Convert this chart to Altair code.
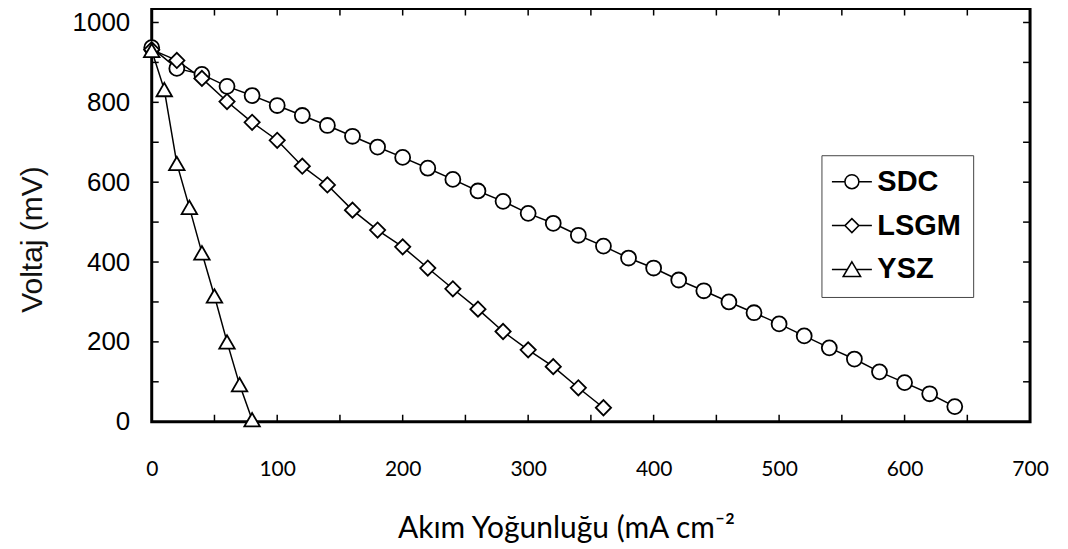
import altair as alt
import pandas as pd

series_names = ["SDC", "LSGM", "YSZ"]

sdc_current = [0, 20, 40, 60, 80, 100, 120, 140, 160, 180, 200, 220, 240, 260, 280, 300,
               320, 340, 360, 380, 400, 420, 440, 460, 480, 500, 520, 540, 560, 580, 600, 620, 640]
sdc_voltage = [937, 885, 870, 840, 817, 792, 767, 742, 715, 688, 662, 635, 607, 578, 552, 522,
               497, 467, 440, 410, 385, 355, 328, 300, 273, 245, 215, 185, 157, 125, 98, 70, 38]

lsgm_current = [0, 20, 40, 60, 80, 100, 120, 140, 160, 180, 200, 220, 240, 260, 280, 300, 320, 340, 360]
lsgm_voltage = [932, 905, 860, 802, 750, 705, 640, 593, 530, 480, 438, 385, 333, 282, 226, 180, 138, 85, 35]

ysz_current = [0, 10, 20, 30, 40, 50, 60, 70, 80]
ysz_voltage = [930, 832, 647, 537, 423, 315, 200, 93, 5]

x_label_values = [0, 100, 200, 300, 400, 500, 600, 700]
y_label_values = [0, 200, 400, 600, 800, 1000]
x_tick_values = [50, 100, 150, 200, 250, 300, 350, 400, 450, 500, 550, 600, 650]
y_tick_values = [100, 200, 300, 400, 500, 600, 700, 800, 900, 1000]

x_title = "Akım Yoğunluğu (mA cm⁻²"
y_title = "Voltaj (mV)"

rows = []
for name, xs, ys in [("SDC", sdc_current, sdc_voltage),
                     ("LSGM", lsgm_current, lsgm_voltage),
                     ("YSZ", ysz_current, ysz_voltage)]:
    for a, b in zip(xs, ys):
        rows.append({"series": name, "current": a, "voltage": b})
df = pd.DataFrame(rows)

W, H = 880, 414

x_scale = alt.Scale(domain=[0, 700], nice=False, zero=False)
y_scale = alt.Scale(domain=[0, 1035], nice=False, zero=False)

x_axis = alt.Axis(values=x_label_values, title=x_title, ticks=False, domain=False, format="d",
                  grid=False, labelFont="Lato", labelFontSize=21,
                  labelColor="black", labelPadding=37, labelFlush=False,
                  titleFont="Lato", titleFontSize=30,
                  titleFontWeight="normal", titleColor="black", titleX=415, titleY=116,
                  titleBaseline="alphabetic")
y_axis = alt.Axis(values=y_label_values, title=y_title, ticks=False, domain=False, format="d",
                  grid=False, labelFont="Liberation Sans", labelFontSize=26, labelColor="black",
                  labelPadding=22, labelFlush=False, titleFont="Liberation Sans", titleFontSize=30,
                  titleFontWeight="normal", titleColor="#111111", titlePadding=25, titleY=231)

X = alt.X("current:Q", scale=x_scale, axis=x_axis)
Y = alt.Y("voltage:Q", scale=y_scale, axis=y_axis)

base = alt.Chart(df)

lines = base.mark_line(color="black", strokeWidth=1.5).encode(x=X, y=Y, detail="series:N")

points = base.mark_point(filled=True, fill="white", stroke="black", strokeWidth=1.8, opacity=1).encode(
    x=X, y=Y,
    shape=alt.Shape("series:N", scale=alt.Scale(domain=series_names,
                                                range=["circle", "diamond", "triangle-up"]), legend=None),
    size=alt.Size("series:N", scale=alt.Scale(domain=series_names, range=[225, 240, 300]), legend=None),
)

legend_paths = [
    "M-2.86,0L-1,0M1,0C1,0.552,0.552,1,0,1C-0.552,1,-1,0.552,-1,0C-1,-0.552,-0.552,-1,0,-1C0.552,-1,1,-0.552,1,0ZM1,0L2.86,0",
    "M-2.86,0L-1,0M-1,0L0,-1L1,0L0,1ZM1,0L2.86,0",
    "M-2.86,0L-0.66,0M0,-1.1L1.25,1L-1.25,1ZM0.66,0L2.86,0",
]

legend_layer = base.mark_point(filled=False, stroke="black", color="black", strokeWidth=1.5, opacity=1).encode(
    x=X, y=Y,
    shape=alt.Shape("series:N", scale=alt.Scale(domain=series_names, range=legend_paths),
                    legend=alt.Legend(title=None, orient="none", legendX=671, legendY=147,
                                      padding=12, strokeColor="#444444", fillColor="white",
                                      symbolSize=196, symbolStrokeWidth=1.5,
                                      symbolStrokeColor="black", symbolOpacity=1,
                                      symbolOffset=4, labelOffset=11, rowPadding=14,
                                      labelFont="Liberation Sans", labelFontSize=29,
                                      labelFontWeight="bold", labelColor="black")),
).transform_filter("false")

xt = pd.DataFrame({"current": x_tick_values})
yt = pd.DataFrame({"voltage": y_tick_values})

bottom_ticks = alt.Chart(xt).mark_rule(color="black", strokeWidth=1.5).encode(
    x=X, y=alt.value(H), y2=alt.value(H - 7))
top_ticks = alt.Chart(xt).mark_rule(color="black", strokeWidth=1.5).encode(
    x=X, y=alt.value(0), y2=alt.value(7))
left_ticks = alt.Chart(yt).mark_rule(color="black", strokeWidth=1.5).encode(
    y=Y, x=alt.value(0), x2=alt.value(7))
right_ticks = alt.Chart(yt).mark_rule(color="black", strokeWidth=1.5).encode(
    y=Y, x=alt.value(W), x2=alt.value(W - 7))

chart = alt.layer(
    lines, bottom_ticks, top_ticks, left_ticks, right_ticks, points, legend_layer
).resolve_scale(shape="independent").properties(
    width=W, height=H,
    autosize=alt.AutoSizeParams(type="none"),
    padding={"left": 144, "top": 0, "right": 30, "bottom": 125},
).configure_view(stroke="black", strokeWidth=3)

chart.save("out.html", embed_options={"renderer": "svg", "actions": False})
